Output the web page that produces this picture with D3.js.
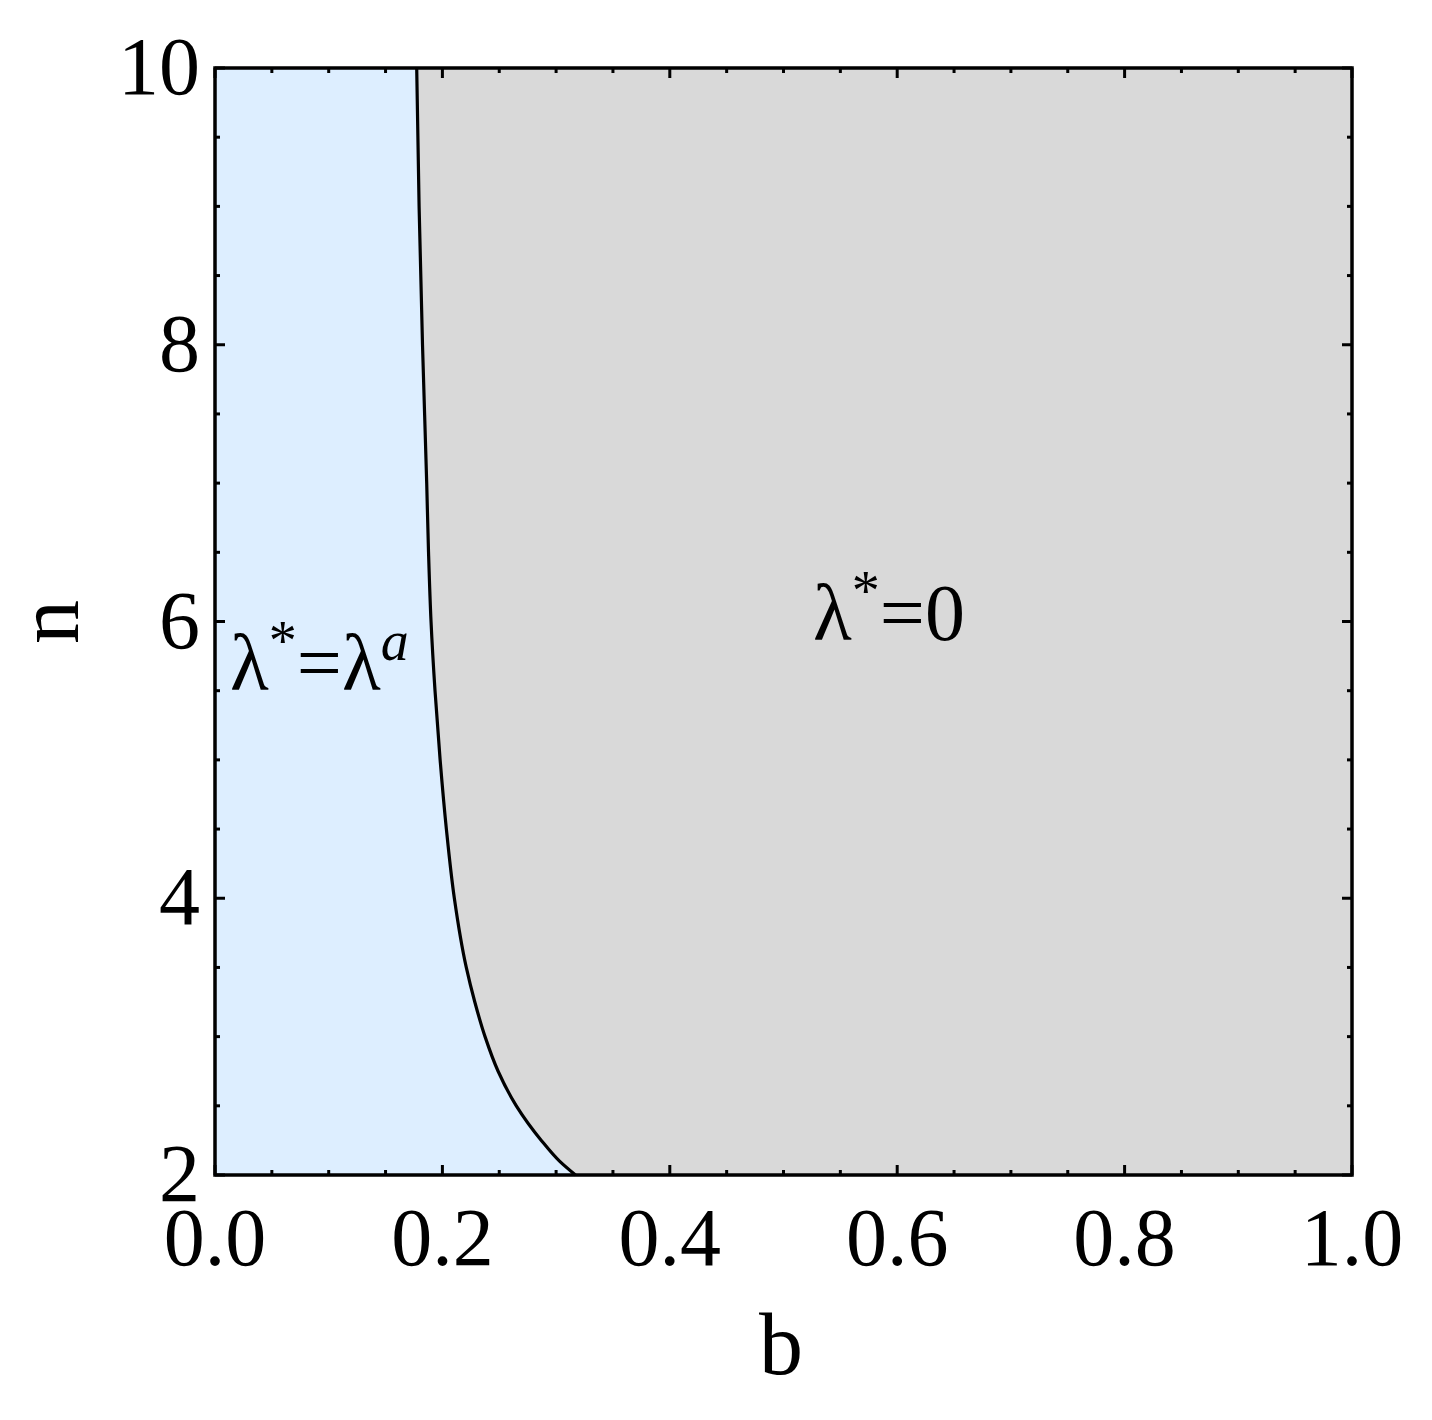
<!DOCTYPE html>
<html><head><meta charset="utf-8">
<script src="https://cdn.jsdelivr.net/npm/d3@7"></script>
<style>body{margin:0;background:#fff}svg{display:block}</style>
</head><body>
<script>
// Boundary curve b(n) between regions
const boundaryN = [10, 9, 8, 7, 6.5, 6, 5.5, 5, 4.5, 4, 3.5, 3.25, 3.0, 2.75, 2.5, 2.25, 2.1, 2];
const boundaryB = [0.1774, 0.1795, 0.1825, 0.1862, 0.1878, 0.1900, 0.1935, 0.1980, 0.2035, 0.2105, 0.2210, 0.2285, 0.2375, 0.2490, 0.2650, 0.2870, 0.3030, 0.3170];
const xTicks = [0, 0.2, 0.4, 0.6, 0.8, 1.0];
const xTickLabels = ["0.0", "0.2", "0.4", "0.6", "0.8", "1.0"];
const yTicks = [2, 4, 6, 8, 10];
const yTickLabels = ["2", "4", "6", "8", "10"];

const W = 1432, H = 1420;
const m = {left: 215, top: 68, right: 1352, bottom: 1175};
const svg = d3.select("body").append("svg").attr("width", W).attr("height", H);
const x = d3.scaleLinear().domain([0, 1]).range([m.left, m.right]);
const y = d3.scaleLinear().domain([2, 10]).range([m.bottom, m.top]);
const pts = boundaryN.map((n, i) => ({n, b: boundaryB[i]}));
const font = "'Liberation Serif','Times New Roman',serif";
const curve = d3.curveMonotoneY;

svg.append("rect").attr("x", x(0)).attr("y", y(10)).attr("width", x(1) - x(0)).attr("height", y(2) - y(10)).attr("fill", "#ddeeff");
svg.append("path").datum(pts)
  .attr("d", d3.area().curve(curve).y(d => y(d.n)).x0(d => x(d.b)).x1(x(1)))
  .attr("fill", "#d9d9d9");
svg.append("path").datum(pts)
  .attr("d", d3.line().curve(curve).y(d => y(d.n)).x(d => x(d.b)))
  .attr("fill", "none").attr("stroke", "#000").attr("stroke-width", 3.2);

// ticks (inward) on all four sides
const g = svg.append("g").attr("stroke", "#000").attr("stroke-width", 3);
const xMinor = d3.range(0, 1.0001, 0.05);
xMinor.forEach(v => {
  const major = xTicks.some(t => Math.abs(t - v) < 1e-6);
  const L = major ? 10 : 5;
  g.append("line").attr("x1", x(v)).attr("x2", x(v)).attr("y1", y(2)).attr("y2", y(2) - L);
  g.append("line").attr("x1", x(v)).attr("x2", x(v)).attr("y1", y(10)).attr("y2", y(10) + L);
});
const yMinor = d3.range(2, 10.0001, 0.5);
yMinor.forEach(v => {
  const major = yTicks.some(t => Math.abs(t - v) < 1e-6);
  const L = major ? 10 : 5;
  g.append("line").attr("y1", y(v)).attr("y2", y(v)).attr("x1", x(0)).attr("x2", x(0) + L);
  g.append("line").attr("y1", y(v)).attr("y2", y(v)).attr("x1", x(1)).attr("x2", x(1) - L);
});
svg.append("rect").attr("x", x(0)).attr("y", y(10)).attr("width", x(1) - x(0)).attr("height", y(2) - y(10))
  .attr("fill", "none").attr("stroke", "#000").attr("stroke-width", 3.5);

// tick labels
svg.selectAll(".xl").data(xTicks).enter().append("text")
  .attr("x", d => x(d)).attr("y", 1265).attr("text-anchor", "middle")
  .attr("font-family", font).attr("font-size", 82).text((d, i) => xTickLabels[i]);
svg.selectAll(".yl").data(yTicks).enter().append("text")
  .attr("x", 200).attr("y", d => y(d) + 26).attr("text-anchor", "end")
  .attr("font-family", font).attr("font-size", 82).text((d, i) => yTickLabels[i]);

// axis labels
svg.append("text").attr("x", 781).attr("y", 1374).attr("text-anchor", "middle")
  .attr("font-family", font).attr("font-size", 88).text("b");
svg.append("text").attr("transform", "translate(78,622) rotate(-90)").attr("text-anchor", "middle")
  .attr("font-family", font).attr("font-size", 88).text("n");

// region labels
const t1 = svg.append("text").attr("x", 230).attr("y", 690).attr("font-family", font).attr("font-size", 80);
t1.append("tspan").text("λ");
t1.append("tspan").attr("font-size", 56).attr("dy", -30).text("*");
t1.append("tspan").attr("font-size", 80).attr("dy", 30).text("=λ");
t1.append("tspan").attr("font-size", 56).attr("dy", -30).attr("font-style", "italic").text("a");

const t2 = svg.append("text").attr("x", 813).attr("y", 640).attr("font-family", font).attr("font-size", 80);
t2.append("tspan").text("λ");
t2.append("tspan").attr("font-size", 56).attr("dy", -30).text("*");
t2.append("tspan").attr("font-size", 80).attr("dy", 30).text("=0");
</script>
</body></html>
